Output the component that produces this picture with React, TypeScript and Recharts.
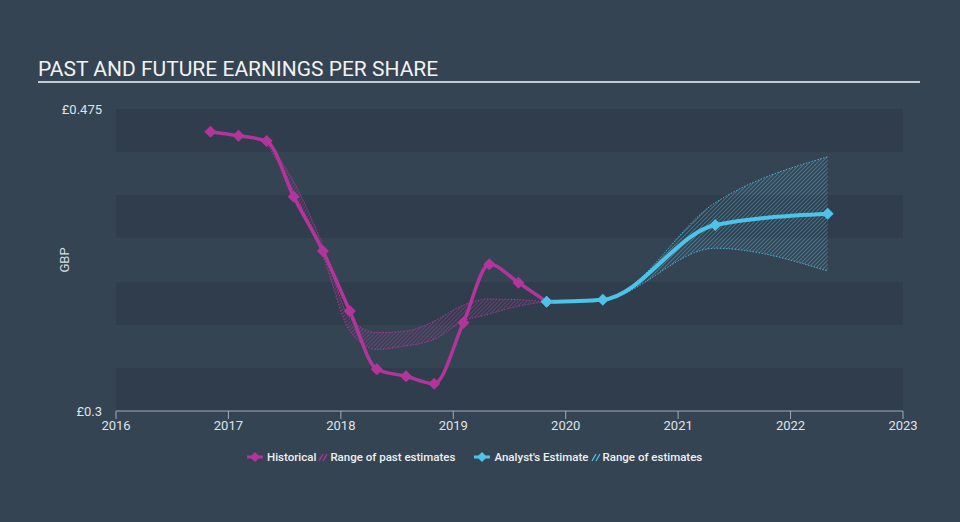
import { ComposedChart, Line, Area, XAxis, YAxis, CartesianGrid } from 'recharts';

// historical EPS (quarterly reporting dates, GBP)
const histYears = [2016.84, 2017.09, 2017.34, 2017.58, 2017.84, 2018.08, 2018.32, 2018.58, 2018.83, 2019.09, 2019.32, 2019.58, 2019.83];
const histEps = [0.4618, 0.4595, 0.4564, 0.4242, 0.3927, 0.3579, 0.3242, 0.3201, 0.3158, 0.3512, 0.385, 0.3743, 0.3633];
const pastLow = [null, null, 0.4552, 0.4275, 0.39, 0.3463, 0.3357, 0.3377, 0.3415, 0.3521, 0.3562, 0.3608, 0.3633];
const pastHigh = [null, null, 0.4566, 0.433, 0.396, 0.354, 0.3454, 0.3463, 0.3521, 0.3614, 0.3649, 0.3645, 0.3633];

// analyst estimates
const estYears = [2019.83, 2020.33, 2021.33, 2022.33];
const estEps = [0.3633, 0.3645, 0.4078, 0.4143];
const estLow = [0.3633, 0.3645, 0.3943, 0.3811];
const estHigh = [0.3633, 0.3645, 0.4207, 0.4473];

const yearTicks = [2016, 2017, 2018, 2019, 2020, 2021, 2022, 2023];
const epsTicks = [0.3, 0.475];
const bandEdges = [0.3, 0.325, 0.35, 0.375, 0.4, 0.425, 0.45, 0.475];

const MAGENTA = '#b3359c';
const BLUE = '#4cc3e8';
const BG = '#354453';
const BAND = '#303d4c';

const rows: any[] = [];
const rowFor = (x: number) => {
  let r = rows.find(d => d.x === x);
  if (!r) { r = { x }; rows.push(r); }
  return r;
};
histYears.forEach((x, i) => {
  const r = rowFor(x);
  r.hist = histEps[i];
  if (pastLow[i] != null) r.pastRange = [pastLow[i], pastHigh[i]];
});
estYears.forEach((x, i) => {
  const r = rowFor(x);
  r.est = estEps[i];
  r.estRange = [estLow[i], estHigh[i]];
});
rows.sort((a, b) => a.x - b.x);

const diamond = (color: string, key: string, size = 6) => (p: any) => {
  if (p.cy == null || p.value == null) return <g key={`${key}-${p.index}`} />;
  const { cx, cy } = p;
  return (
    <path key={`${key}-${p.index}`}
      d={`M${cx},${cy - size} L${cx + size},${cy} L${cx},${cy + size} L${cx - size},${cy} Z`}
      fill={color} />
  );
};

const hatchPath = 'M0,4 L4,0 M-1,1 L1,-1 M3,5 L5,3';

const LegendIcon = ({ color }: { color: string }) => (
  <svg width={16} height={12} style={{ marginRight: 4 }}>
    <line x1={0} y1={6} x2={16} y2={6} stroke={color} strokeWidth={3} />
    <path d="M8,1 L13,6 L8,11 L3,6 Z" fill={color} />
  </svg>
);

const HatchIcon = ({ color }: { color: string }) => (
  <svg width={10} height={12} style={{ margin: '0 2px 0 2px' }}>
    <line x1={1} y1={10} x2={5} y2={3} stroke={color} strokeWidth={1.3} />
    <line x1={5} y1={10} x2={9} y2={3} stroke={color} strokeWidth={1.3} />
  </svg>
);

const GbpLabel = (p: any) => {
  const vb = p.viewBox;
  const x = vb.x + 8;
  const y = vb.y + vb.height / 2;
  return (
    <text x={x} y={y} transform={`rotate(-90 ${x} ${y})`} textAnchor="middle"
      dominantBaseline="central" fill="#d8dde2" fontSize={13}>GBP</text>
  );
};

export default function App() {
  return (
    <div style={{ position: 'absolute', left: 0, top: 0, width: 960, height: 522, background: BG, fontFamily: 'Roboto, sans-serif', overflow: 'hidden' }}>
      <div style={{ position: 'absolute', left: 38, top: 56, fontSize: 21, lineHeight: '26px', color: '#f2f2f2' }}>
        PAST AND FUTURE EARNINGS PER SHARE
      </div>
      <div style={{ position: 'absolute', left: 38, top: 81, width: 882, height: 2, background: '#c5cad0' }} />

      <ComposedChart width={960} height={522} data={rows}
        margin={{ top: 109, right: 57, bottom: 81, left: 56 }}>
        <defs>
          <pattern id="hatchPast" patternUnits="userSpaceOnUse" width={4} height={4}>
            <path d={hatchPath} stroke={MAGENTA} strokeWidth={1.1} strokeOpacity={0.8} />
          </pattern>
          <pattern id="hatchEst" patternUnits="userSpaceOnUse" width={4} height={4}>
            <path d={hatchPath} stroke={BLUE} strokeWidth={1.1} strokeOpacity={0.7} />
          </pattern>
        </defs>
        <CartesianGrid horizontalValues={bandEdges} horizontalFill={[BAND, 'transparent']}
          vertical={false} horizontal stroke="transparent" strokeOpacity={0} />
        <XAxis dataKey="x" type="number" domain={[2016, 2023]} ticks={yearTicks}
          interval={0} height={30} tickSize={8} tickMargin={2}
          stroke="#9fadbb" tick={{ fill: '#dfe3e7', fontSize: 13 }} />
        <YAxis type="number" domain={[0.3, 0.475]} ticks={epsTicks} width={60}
          axisLine={false} tickLine={false} tickMargin={8}
          tickFormatter={(v: number) => `£${v}`}
          tick={{ fill: '#dfe3e7', fontSize: 13 }}
          label={{ content: GbpLabel }} />
        <Area dataKey="pastRange" type="monotone" connectNulls fill="url(#hatchPast)"
          stroke={MAGENTA} strokeWidth={1} strokeDasharray="1.5 1.5" strokeOpacity={0.9}
          isAnimationActive={false} dot={false} activeDot={false} />
        <Area dataKey="estRange" type="monotone" connectNulls fill="url(#hatchEst)"
          stroke={BLUE} strokeWidth={1} strokeDasharray="1.5 1.5" strokeOpacity={0.85}
          isAnimationActive={false} dot={false} activeDot={false} />
        <Line dataKey="hist" type="monotone" connectNulls stroke={MAGENTA} strokeWidth={3.5}
          dot={diamond(MAGENTA, 'h')} activeDot={false} isAnimationActive={false} />
        <Line dataKey="est" type="monotone" connectNulls stroke={BLUE} strokeWidth={4}
          dot={diamond(BLUE, 'e')} activeDot={false} isAnimationActive={false} />
      </ComposedChart>

      <div style={{ position: 'absolute', left: 247, top: 450, display: 'flex', alignItems: 'center', fontSize: 11.5, fontWeight: 500, color: '#eef0f2' }}>
        <LegendIcon color={MAGENTA} />
        <span>Historical</span>
        <HatchIcon color={MAGENTA} />
        <span>Range of past estimates</span>
        <span style={{ width: 19 }} />
        <LegendIcon color={BLUE} />
        <span>Analyst's Estimate</span>
        <HatchIcon color={BLUE} />
        <span>Range of estimates</span>
      </div>
    </div>
  );
}
